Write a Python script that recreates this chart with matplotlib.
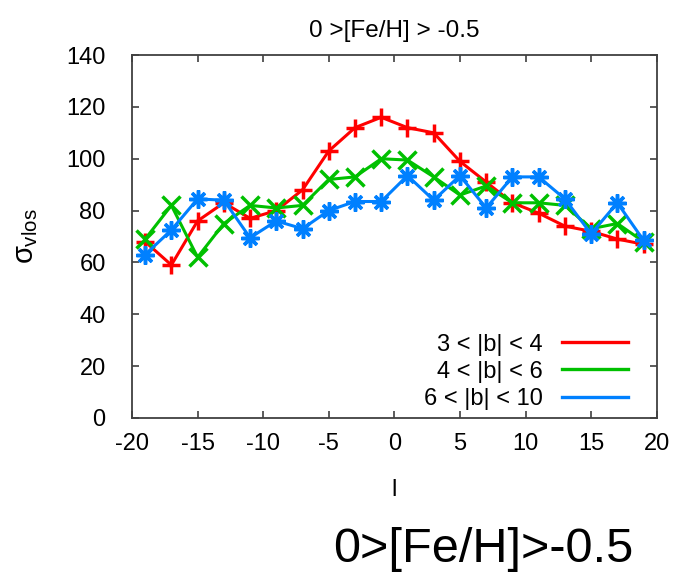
import matplotlib
matplotlib.use("Agg")
import matplotlib.pyplot as plt

# --- datos ---
l_vals = [-19, -17, -15, -13, -11, -9, -7, -5, -3, -1, 1, 3, 5, 7, 9, 11, 13, 15, 17, 19]

sig_b34 = [68, 59, 76, 83, 77, 80, 88, 103, 112, 116, 112, 110, 99, 91, 83, 79, 74, 72, 69, 67]
sig_b46 = [69, 82, 62, 75, 82, 81, 82, 92, 93, 100, 99.5, 93, 86, 89.5, 83, 83, 82, 73, 75, 68]
sig_b610 = [63, 72.5, 84.5, 84, 69.5, 76, 73, 80, 83.5, 83.5, 93.5, 84, 93.5, 81, 93, 93, 84.5, 71, 83, 68.5]

labels = ['3 < |b| < 4', '4 < |b| < 6', '6 < |b| < 10']
colors = ['#ff0000', '#00c000', '#0080ff']
markers = ['+', 'x', (8, 2, 0)]

x_ticks = [-20, -15, -10, -5, 0, 5, 10, 15, 20]
y_ticks = [0, 20, 40, 60, 80, 100, 120, 140]

plt.rcParams['font.family'] = ['Liberation Sans', 'DejaVu Sans']
plt.rcParams['axes.unicode_minus'] = False
plt.rcParams['mathtext.fontset'] = 'custom'
plt.rcParams['mathtext.rm'] = 'Liberation Sans'
plt.rcParams['mathtext.it'] = 'Liberation Sans'

fig = plt.figure(figsize=(6.77, 5.74), dpi=100)
ax = fig.add_axes([0.195, 0.272, 0.775, 0.632])

lineas = []
for serie, lab, col, mk in zip([sig_b34, sig_b46, sig_b610], labels, colors, markers):
    ax.plot(l_vals, serie, color=col, lw=2.2, marker=mk, ms=13, mew=2.5)
    # solo la línea en la leyenda
    lineas.append(plt.Line2D([], [], color=col, lw=2.4))

ax.set_xlim(-20, 20)
ax.set_ylim(0, 140)
ax.set_xticks(x_ticks)
ax.set_yticks(y_ticks)
ax.tick_params(direction='in', length=5, width=1.2, top=True, right=True,
               labelsize=17, color='#404040')
ax.tick_params(axis='y', pad=19)
ax.tick_params(axis='x', pad=11)
for s in ax.spines.values():
    s.set_color('#404040')
    s.set_linewidth(1.3)

ax.set_title('0 >[Fe/H] > -0.5', fontsize=17.5, pad=13)
ax.set_xlabel('l', fontsize=17, labelpad=17)
ax.set_ylabel(r'$\sigma_{\rm vlos}$', fontsize=21, labelpad=19)

ax.legend(lineas, labels, loc='lower right', frameon=False, markerfirst=False,
          fontsize=17, handlelength=2.8, handletextpad=0.8, labelspacing=0.22,
          borderpad=0, borderaxespad=0, bbox_to_anchor=(0.945, 0.022))

fig.text(0.714, 0.042, '0>[Fe/H]>-0.5', fontsize=35, ha='center', va='center')

fig.savefig('out.png', dpi=100)
